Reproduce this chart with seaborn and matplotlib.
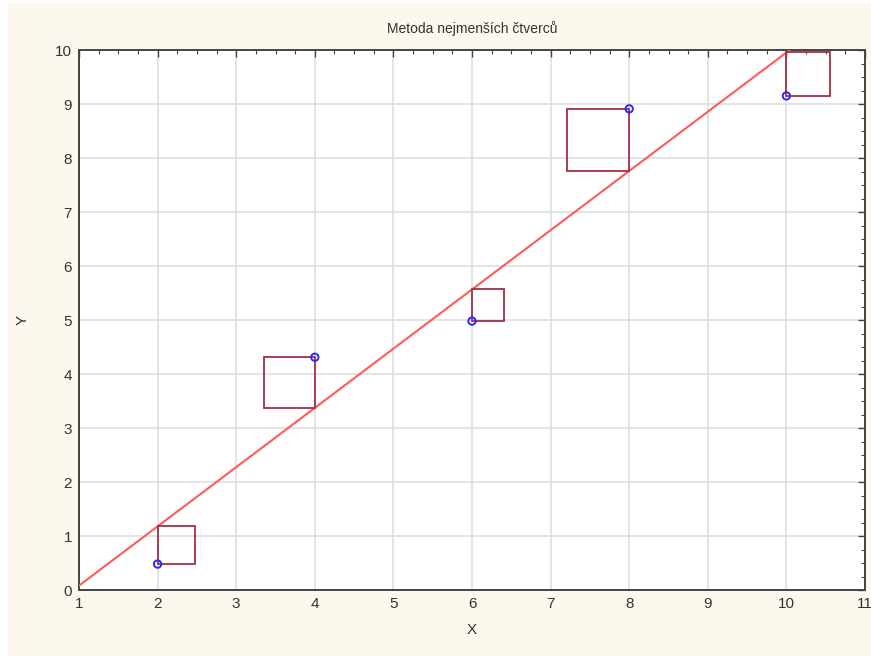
import numpy as np
import pandas as pd
import matplotlib
matplotlib.use("Agg")
import matplotlib.pyplot as plt
from matplotlib.patches import Rectangle
from matplotlib.ticker import MultipleLocator
import seaborn as sns

# data
x_vals = [2, 4, 6, 8, 10]
y_vals = [0.48, 4.31, 4.98, 8.91, 9.15]
x_range = [1, 11]
y_range = [0, 10]

title = "Metoda nejmenších čtverců"

sns.set_theme(style="whitegrid")
plt.rcParams['font.family'] = ['Liberation Sans', 'DejaVu Sans']

df = pd.DataFrame({"X": x_vals, "Y": y_vals})

# least squares fit
slope, intercept = np.polyfit(df["X"], df["Y"], 1)
df["fit"] = slope * df["X"] + intercept
line_df = pd.DataFrame({"X": x_range})
line_df["Y"] = slope * line_df["X"] + intercept

fig = plt.figure(figsize=(8.71, 6.56), dpi=100, facecolor="white")
fig.patches.append(Rectangle((8 / 871, 0), 1, 653 / 656, transform=fig.transFigure,
                             facecolor="#fdf8ed", edgecolor="none", zorder=-10))
ax = fig.add_axes([79 / 871, 1 - 590 / 656, 786 / 871, 540 / 656])
ax.set_facecolor("white")

sns.lineplot(data=line_df, x="X", y="Y", ax=ax, color="#ff5a5a", linewidth=1.5, zorder=3)

ax.set_xlim(*x_range)
ax.set_ylim(*y_range)

# squares of residuals, drawn as true squares on screen
fig.canvas.draw()
bbox = ax.get_window_extent()
px_x = bbox.width / (x_range[1] - x_range[0])
px_y = bbox.height / (y_range[1] - y_range[0])
for xv, yv, fv in zip(df["X"], df["Y"], df["fit"]):
    res = yv - fv
    side_y = abs(res)
    side_x = side_y * px_y / px_x
    x0 = xv - side_x if res > 0 else xv
    ax.add_patch(Rectangle((x0, min(yv, fv)), side_x, side_y, facecolor="none",
                           edgecolor="#a33043", linewidth=1.3, zorder=4))

sns.scatterplot(data=df, x="X", y="Y", ax=ax, marker="o", s=28, facecolor="none",
                edgecolor="#2a2aff", linewidth=1.4, zorder=5)

ax.xaxis.set_major_locator(MultipleLocator(1))
ax.yaxis.set_major_locator(MultipleLocator(1))
ax.xaxis.set_minor_locator(MultipleLocator(0.25))
ax.yaxis.set_minor_locator(MultipleLocator(0.25))
ax.grid(True, which="major", color="#dddddd", linewidth=1.1)
ax.grid(False, which="minor")
ax.tick_params(which="both", direction="in", top=True, right=True, color="#444444",
               labelcolor="#333333", labelsize=11)
ax.tick_params(which="major", length=5, width=1, pad=5)
ax.tick_params(which="minor", length=3, width=0.8)
for sp in ax.spines.values():
    sp.set_color("#444444")
    sp.set_linewidth(1.4)

ax.set_title(title, fontsize=10, color="#333333", pad=12)
ax.set_xlabel("X", fontsize=11, color="#333333", labelpad=9)
ax.set_ylabel("Y", fontsize=11, color="#333333", labelpad=18)

fig.savefig("out.png", dpi=100, facecolor=fig.get_facecolor())
